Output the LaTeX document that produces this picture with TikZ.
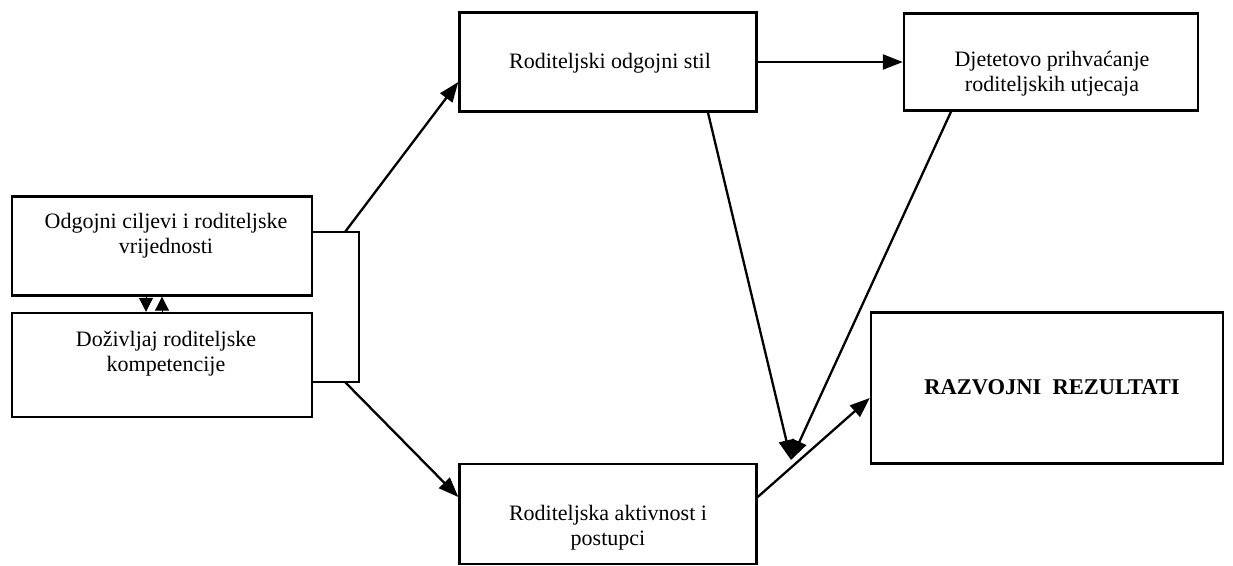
\documentclass[tikz,border=0pt]{standalone}
\usepackage{fontspec}
\setmainfont{Liberation Serif}
\usetikzlibrary{arrows.meta,calc}
\begin{document}
\begin{tikzpicture}[x=1pt,y=-1pt,
  box/.style={draw,line width=2.4pt,minimum width=#1,inner sep=0pt},
  box/.default=300pt,
  lbl/.style={font=\fontsize{22}{25}\selectfont,align=center,inner sep=0pt},
  conn/.style={line width=2.3pt,-{Triangle[length=20pt,width=15pt]}},
  small/.style={line width=1pt,-{Triangle[length=14pt,width=14pt]}}]
\useasboundingbox (0,0) rectangle (1233,565);
% boxes (x from left, y from top, in pixels)
\node[box=300pt,minimum height=99pt] (A) at (162,246) {};
\node[box=300pt,minimum height=104pt] (B) at (162,365) {};
\node[box=297pt,minimum height=99pt] (C) at (608,62) {};
\node[box=294pt,minimum height=97pt] (D) at (1051,62) {};
\node[box=297pt,minimum height=100pt] (E) at (608,514) {};
\node[box=352pt,minimum height=151pt] (F) at (1047,388) {};
% texts
\node[lbl] (tA) at (166,236) {Odgojni ciljevi i roditeljske\\vrijednosti};
\node[lbl] (tB) at (166,354) {Doživljaj roditeljske\\kompetencije};
\node[lbl] (tC) at (610,63) {Roditeljski odgojni stil};
\node[lbl] (tD) at (1052,74) {Djetetovo prihvaćanje\\roditeljskih utjecaja};
\node[lbl] (tE) at (608,528) {Roditeljska aktivnost i\\postupci};
\node[lbl,font=\fontsize{22.5}{25}\selectfont\bfseries] (tF) at (1052,387) {RAZVOJNI\ \ REZULTATI};
% bracket joining A and B
\coordinate (j1) at (359,232);
\coordinate (j2) at (359,382);
\coordinate (s1) at (345,232);
\coordinate (s2) at (345,382);
\draw[line width=2.3pt] (A.east |- j1) -- (j1) -- (j2) -- (B.east |- j2);
% connectors
\draw[conn] (s1) -- ($(C.west)+(0,20)$);
\draw[conn] (s2) -- ($(E.west)+(0,-17)$);
\draw[conn] (C.east) -- (D.west);
\coordinate (m) at (791,460);
\draw[conn] ($(C.south)+(100,0)$) -- (m);
\draw[conn] ($(D.south)+(-100,0)$) -- (m);
\draw[conn] ($(E.east)+(0,-17)$) -- ($(F.west)+(0,10)$);
% two-way between A and B
\draw[small] ($(A.south)+(-16,0)$) -- ($(B.north)+(-16,0)$);
\draw[small] ($(B.north)+(0,0)$) -- ($(A.south)+(0,0)$);
\end{tikzpicture}
\end{document}
